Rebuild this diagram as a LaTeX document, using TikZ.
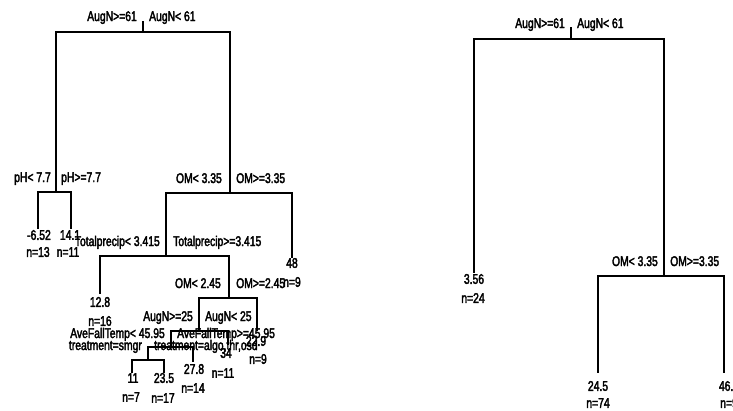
\documentclass[tikz,border=0pt]{standalone}
\usepackage{fontspec}
\newfontfamily\treefont[FakeStretch=0.74,FakeBold=2.5]{Liberation Sans}
\begin{document}
\begin{tikzpicture}[x=1pt,y=-1pt,
  edge/.style={line width=1.6pt,line cap=rect},
  lab/.style={font=\treefont\fontsize{14}{15}\selectfont,inner sep=0pt},
  lleft/.style={lab,anchor=base east},
  lright/.style={lab,anchor=base west},
  leafv/.style={lab,anchor=center}]
\useasboundingbox (0,0) rectangle (733,410);
\fill[white] (0,0) rectangle (733,410);

% ---------------- left tree ----------------
\coordinate (rootLtop) at (143,22);
\coordinate (rootL) at (143,32);
\coordinate (ph) at (56,192);
\coordinate (om1) at (230,193);
\coordinate (la) at (38,228);
\coordinate (lb) at (71,228);
\coordinate (tp) at (166,256);
\coordinate (l48) at (292,257);
\coordinate (l128) at (100,293);
\coordinate (om2) at (229,298);
\coordinate (aug2) at (199,331);
\coordinate (l229) at (257,330);
\coordinate (aft) at (171,347);
\coordinate (l34) at (228,344);
\coordinate (trt) at (148,360);
\coordinate (l278) at (193,361);
\coordinate (l11) at (132,372);
\coordinate (l235) at (164,372);

\draw[edge] (rootLtop) -- (rootL);
\draw[edge] (ph) |- (rootL) -| (om1);
\draw[edge] (la) |- (ph) -| (lb);
\draw[edge] (tp) |- (om1) -| (l48);
\draw[edge] (l128) |- (tp) -| (om2);
\draw[edge] (aug2) |- (om2) -| (l229);
\draw[edge] (aft) |- (aug2) -| (l34);
\draw[edge] (trt) |- (aft) -| (l278);
\draw[edge] (l11) |- (trt) -| (l235);

% split labels
\node[lleft]  (sRa) at (137,21) {AugN>=61};
\node[lright] (sRb) at (149,21) {AugN< 61};
\node[lleft]  (sPa) at (51,182) {pH< 7.7};
\node[lright] (sPb) at (61,182) {pH>=7.7};
\node[lleft]  (sOa) at (222,183) {OM< 3.35};
\node[lright] (sOb) at (236,183) {OM>=3.35};
\node[lleft]  (sTa) at (160,246) {Totalprecip< 3.415};
\node[lright] (sTb) at (173,246) {Totalprecip>=3.415};
\node[lleft]  (sO2a) at (221,288) {OM< 2.45};
\node[lright] (sO2b) at (236,288) {OM>=2.45};
\node[lleft]  (sAa) at (193,321) {AugN>=25};
\node[lright] (sAb) at (205,321) {AugN< 25};
\node[lleft]  (sFa) at (165,338) {AveFallTemp< 45.95};
\node[lright] (sFb) at (177,338) {AveFallTemp>=45.95};
\node[lleft]  (sXa) at (142,350) {treatment=smgr};
\node[lright] (sXb) at (154,350) {treatment=algo,thr,osd};

% leaf labels
\node[leafv] (va) at (39,235) {-6.52};
\node[leafv] (na) at (38,252) {n=13};
\node[leafv] (vb) at (70,235) {14.1};
\node[leafv] (nb) at (68,252) {n=11};
\node[leafv] (v48) at (292,263) {48};
\node[leafv] (n48) at (292,282) {n=9};
\node[leafv] (v128) at (100,302) {12.8};
\node[leafv] (n128) at (100,321) {n=16};
\node[leafv] (v229) at (256,341) {22.9};
\node[leafv] (n229) at (258,359) {n=9};
\node[leafv] (v34) at (226,353) {34};
\node[leafv] (n34) at (223,373) {n=11};
\node[leafv] (v278) at (194,369) {27.8};
\node[leafv] (n278) at (193,388) {n=14};
\node[leafv] (v11) at (133,378) {11};
\node[leafv] (n11) at (131,397) {n=7};
\node[leafv] (v235) at (164,378) {23.5};
\node[leafv] (n235) at (163,398) {n=17};

% ---------------- right tree ----------------
\coordinate (rootRtop) at (571,28);
\coordinate (rootR) at (571,39);
\coordinate (l356) at (474,272);
\coordinate (omr) at (664,276);
\coordinate (l245) at (598,372);
\coordinate (l464) at (724,372);

\draw[edge] (rootRtop) -- (rootR);
\draw[edge] (l356) |- (rootR) -| (omr);
\draw[edge] (l245) |- (omr) -| (l464);

\node[lleft]  (tRa) at (565,28) {AugN>=61};
\node[lright] (tRb) at (577,28) {AugN< 61};
\node[lleft]  (tOa) at (658,266) {OM< 3.35};
\node[lright] (tOb) at (670,266) {OM>=3.35};

\node[leafv] (v356) at (474,279) {3.56};
\node[leafv] (n356) at (473,298) {n=24};
\node[leafv] (v245) at (598,386) {24.5};
\node[leafv] (n245) at (598,403) {n=74};
\node[leafv] (v464) at (729,386) {46.4};
\node[leafv] (n464) at (729,403) {n=9};
\end{tikzpicture}
\end{document}
